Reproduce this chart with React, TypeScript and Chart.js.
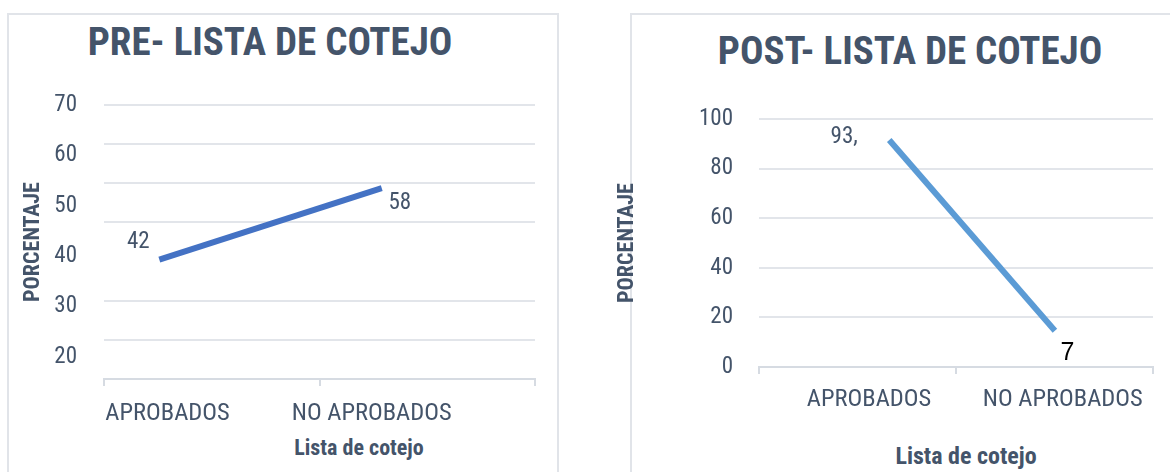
import React, { useEffect, useRef } from "react";
import { Chart, registerables } from "chart.js";

Chart.register(...registerables);

// ---------- data ----------
const categories = ["APROBADOS", "NO APROBADOS"];

const preValues = [39.3, 53.5];
const preLabels = ["42", "58"];
const preTicks = [20, 30, 40, 50, 60, 70];
const preGridTicks = [0, 10, 20, 30, 40, 50, 60, 70];
const preHiddenGrid = [30];

const postValues = [91.5, 14.6];
const postLabels = ["93,", "7"];
const postTicks = [0, 20, 40, 60, 80, 100];

// ---------- styles ----------
const NARROW = "'Liberation Sans Narrow', 'Arial Narrow', 'Roboto Condensed', sans-serif";
const REGULAR = "'Liberation Sans', Arial, sans-serif";
const TEXT = "#44546A";
const GRID = "#E2E5EA";
const AXIS = "#D6DBE2";
const BOX = "#E1E4E9";

Chart.defaults.font.family = NARROW;

type LabelStyle = { dx: number; dy: number; font: string; color: string };

function makeLabelPlugin(texts: string[], styles: LabelStyle[]) {
  return {
    id: "valueLabels",
    afterDatasetsDraw(chart: any) {
      const { ctx } = chart;
      const meta = chart.getDatasetMeta(0);
      meta.data.forEach((pt: any, i: number) => {
        const s = styles[i];
        ctx.save();
        ctx.font = s.font;
        ctx.fillStyle = s.color;
        ctx.textAlign = "center";
        ctx.textBaseline = "middle";
        ctx.fillText(texts[i], pt.x + s.dx, pt.y + s.dy);
        ctx.restore();
      });
    },
  };
}

const setTicks = (values: number[]) => (scale: any) => {
  scale.ticks = values.map((v) => ({ value: v }));
};

function preConfig(): any {
  return {
    type: "line",
    data: {
      datasets: [
        {
          data: preValues.map((v, i) => ({ x: i, y: v })),
          borderColor: "#4472C4",
          borderWidth: 6,
          pointRadius: 0,
          tension: 0,
          xAxisID: "x",
          yAxisID: "y",
        },
      ],
    },
    options: {
      animation: false,
      responsive: false,
      events: [],
      layout: { padding: { left: 0, right: 45, top: 105, bottom: 0 } },
      plugins: { legend: { display: false }, title: { display: false }, tooltip: { enabled: false } },
      scales: {
        x: { type: "linear", display: false, min: -0.2487, max: 1.689 },
        xg: {
          type: "category",
          labels: categories,
          position: "bottom",
          weight: 0,
          offset: true,
          grid: { offset: true, drawOnChartArea: false, drawTicks: true, tickLength: 7, color: AXIS, lineWidth: 2 },
          border: { display: true, color: AXIS, width: 2 },
          ticks: { display: false },
        },
        xl: {
          type: "linear",
          position: "bottom",
          weight: 1,
          min: -0.311,
          max: 1.8,
          afterBuildTicks: setTicks(categories.map((_, i) => i)),
          afterFit: (s: any) => {
            s.height = 86;
          },
          grid: { display: false, drawTicks: false },
          border: { display: false },
          ticks: {
            callback: (v: any) => categories[v],
            font: { family: NARROW, size: 24.5 },
            color: TEXT,
            padding: 13.6,
            autoSkip: false,
            maxRotation: 0,
          },
        },
        yg: {
          type: "linear",
          position: "left",
          weight: 0,
          min: 0,
          max: 70,
          afterBuildTicks: setTicks(preGridTicks),
          grid: {
            color: (c: any) => (c.tick && preHiddenGrid.includes(c.tick.value) ? "rgba(0,0,0,0)" : GRID),
            lineWidth: 2,
            drawTicks: false,
          },
          border: { display: false },
          ticks: { display: false },
        },
        y: {
          type: "linear",
          position: "left",
          weight: 1,
          min: 15.63,
          max: 70,
          afterBuildTicks: setTicks(preTicks),
          afterFit: (s: any) => {
            s.width = 104;
          },
          grid: { display: false, drawTicks: false },
          border: { display: false },
          ticks: { font: { family: NARROW, size: 23 }, color: TEXT, padding: 27 },
          title: {
            display: true,
            text: "PORCENTAJE",
            font: { family: NARROW, size: 22, weight: "bold" },
            color: TEXT,
            padding: { top: 20.3, bottom: 0 },
          },
        },
      },
    },
    plugins: [
      makeLabelPlugin(preLabels, [
        { dx: -21, dy: -17, font: `23px ${NARROW}`, color: TEXT },
        { dx: 18, dy: 15, font: `23px ${NARROW}`, color: TEXT },
      ]),
    ],
  };
}

function postConfig(): any {
  return {
    type: "line",
    data: {
      datasets: [
        {
          data: postValues.map((v, i) => ({ x: i, y: v })),
          borderColor: "#5B9BD5",
          borderWidth: 6,
          pointRadius: 0,
          tension: 0,
          xAxisID: "x",
          yAxisID: "y",
        },
      ],
    },
    options: {
      animation: false,
      responsive: false,
      events: [],
      layout: { padding: { left: 0, right: 17, top: 119, bottom: 0 } },
      plugins: { legend: { display: false }, title: { display: false }, tooltip: { enabled: false } },
      scales: {
        x: { type: "linear", display: false, min: -0.786, max: 1.592 },
        xg: {
          type: "category",
          labels: categories,
          position: "bottom",
          weight: 0,
          offset: true,
          grid: { offset: true, drawOnChartArea: false, drawTicks: true, tickLength: 7, color: AXIS, lineWidth: 2 },
          border: { display: true, color: AXIS, width: 2 },
          ticks: { display: false },
        },
        xl: {
          type: "linear",
          position: "bottom",
          weight: 1,
          min: -0.568,
          max: 1.466,
          afterBuildTicks: setTicks(categories.map((_, i) => i)),
          afterFit: (s: any) => {
            s.height = 98;
          },
          grid: { display: false, drawTicks: false },
          border: { display: false },
          ticks: {
            callback: (v: any) => categories[v],
            font: { family: NARROW, size: 24.5 },
            color: TEXT,
            padding: 11.6,
            autoSkip: false,
            maxRotation: 0,
          },
        },
        y: {
          type: "linear",
          position: "left",
          min: 0,
          max: 100,
          afterBuildTicks: setTicks(postTicks),
          afterFit: (s: any) => {
            s.width = 169;
          },
          grid: { color: GRID, lineWidth: 2, drawTicks: false },
          border: { display: false },
          ticks: { font: { family: NARROW, size: 23 }, color: TEXT, padding: 26 },
          title: {
            display: true,
            text: "PORCENTAJE",
            font: { family: NARROW, size: 22, weight: "bold" },
            color: TEXT,
            padding: { top: 24.3, bottom: 0 },
          },
        },
      },
    },
    plugins: [
      makeLabelPlugin(postLabels, [
        { dx: -45, dy: -3, font: `23px ${NARROW}`, color: TEXT },
        { dx: 12.5, dy: 22, font: `25px ${REGULAR}`, color: "#000000" },
      ]),
    ],
  };
}

function ChartCanvas({ make, left }: { make: () => any; left: number }) {
  const ref = useRef<HTMLCanvasElement | null>(null);
  useEffect(() => {
    if (!ref.current) return;
    const chart = new Chart(ref.current, make());
    return () => chart.destroy();
  }, [make]);
  return (
    <canvas
      ref={ref}
      width={580}
      height={472}
      style={{ position: "absolute", left, top: 0, width: 580, height: 472 }}
    />
  );
}

const titleStyle = (left: number, top: number, size: number): React.CSSProperties => ({
  position: "absolute",
  left,
  top,
  width: 500,
  textAlign: "center",
  fontFamily: NARROW,
  fontWeight: "bold",
  fontSize: size,
  lineHeight: `${size}px`,
  color: TEXT,
  whiteSpace: "nowrap",
});

const axisTitleStyle = (left: number, top: number, size: number): React.CSSProperties => ({
  position: "absolute",
  left,
  top,
  width: 200,
  textAlign: "center",
  fontFamily: NARROW,
  fontWeight: "bold",
  fontSize: size,
  lineHeight: `${size}px`,
  color: TEXT,
  whiteSpace: "nowrap",
});

export default function App() {
  return (
    <div
      style={{
        position: "absolute",
        left: 0,
        top: 0,
        width: 1170,
        height: 472,
        overflow: "hidden",
        background: "#ffffff",
      }}
    >
      <div
        style={{
          position: "absolute",
          left: 7,
          top: 13,
          width: 552,
          height: 480,
          border: `2px solid ${BOX}`,
          boxSizing: "border-box",
        }}
      />
      <div
        style={{
          position: "absolute",
          left: 630,
          top: 13,
          width: 600,
          height: 480,
          border: `2px solid ${BOX}`,
          boxSizing: "border-box",
        }}
      />
      <div style={titleStyle(20, 23, 39)}>PRE- LISTA DE COTEJO</div>
      <div style={titleStyle(660, 32, 39)}>POST- LISTA DE COTEJO</div>
      <div style={axisTitleStyle(259, 437, 22)}>Lista de cotejo</div>
      <div style={axisTitleStyle(866, 444, 24)}>Lista de cotejo</div>
      <ChartCanvas make={preConfig} left={0} />
      <ChartCanvas make={postConfig} left={590} />
    </div>
  );
}
